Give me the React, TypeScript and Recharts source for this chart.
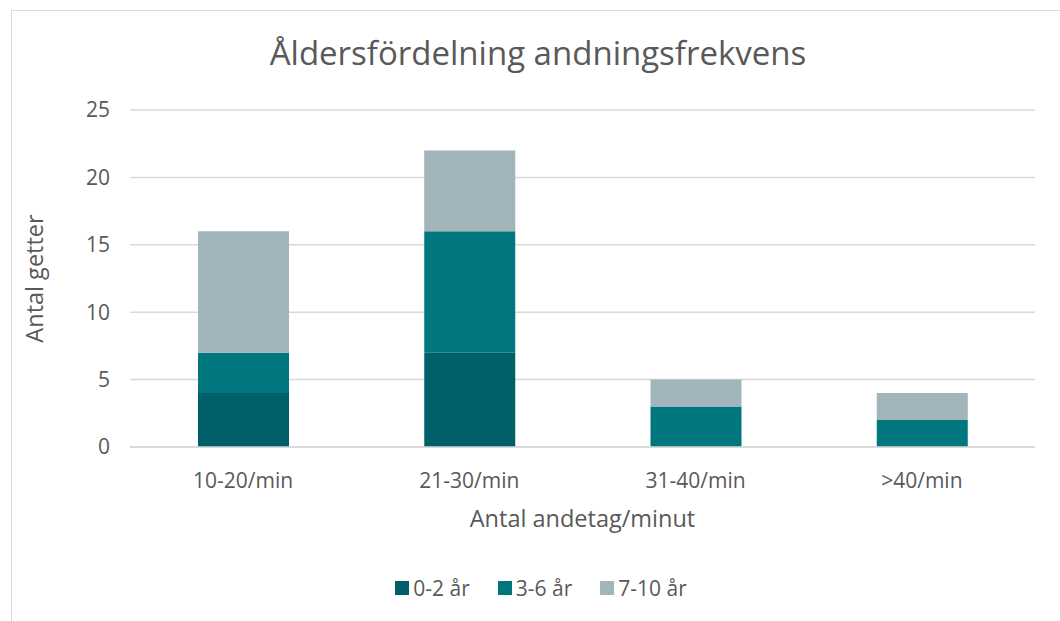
import { Bar, BarChart, CartesianGrid, Legend, XAxis, YAxis } from "recharts";

/* ===== Data ===== */
const categories = ["10-20/min", "21-30/min", "31-40/min", ">40/min"];
const age0to2 = [4, 7, 0, 0];
const age3to6 = [3, 9, 3, 2];
const age7to10 = [9, 6, 2, 2];
const yTicks = [0, 5, 10, 15, 20, 25];

const seriesList = [
  { key: "a", name: "0-2 år", color: "#005F69" },
  { key: "b", name: "3-6 år", color: "#00777F" },
  { key: "c", name: "7-10 år", color: "#A2B5BA" },
];

const chartData = categories.map((cat, i) => ({
  cat,
  a: age0to2[i],
  b: age3to6[i],
  c: age7to10[i],
}));

const FONT = "'Open Sans', sans-serif";
const TEXT = "#595959";

/* ===== Legend ===== */
const CustomLegend = () => (
  <div
    style={{
      display: "flex",
      justifyContent: "center",
      gap: 28,
      fontFamily: FONT,
      height: 26,
      paddingLeft: 22,
    }}
  >
    {seriesList.map((s) => (
      <div key={s.key} style={{ display: "flex", alignItems: "center", gap: 4 }}>
        <span style={{ width: 14, height: 14, background: s.color, display: "inline-block" }} />
        <span style={{ color: TEXT, fontSize: 21, lineHeight: "26px" }}>{s.name}</span>
      </div>
    ))}
  </div>
);

export default function App() {
  return (
    <div
      style={{
        position: "absolute",
        left: 0,
        top: 0,
        width: 1060,
        height: 621,
        overflow: "hidden",
        background: "#fff",
        fontFamily: FONT,
      }}
    >
      {/* Frame */}
      <div
        style={{
          position: "absolute",
          left: 11,
          top: 10,
          width: 1100,
          height: 700,
          border: "1.5px solid #D9D9D9",
        }}
      />

      {/* Title */}
      <div
        style={{
          position: "absolute",
          top: 30,
          left: 0,
          width: 1076,
          textAlign: "center",
          fontSize: 33,
          color: TEXT,
        }}
      >
        Åldersfördelning andningsfrekvens
      </div>

      <div style={{ position: "absolute", left: 0, top: 0 }}>
        <BarChart
          width={1060}
          height={621}
          data={chartData}
          margin={{ top: 110, right: 25, bottom: 0, left: 70 }}
        >
          <CartesianGrid vertical={false} stroke="#D9D9D9" strokeWidth={1.5} />
          <XAxis
            dataKey="cat"
            height={148}
            axisLine={{ stroke: "#D9D9D9", strokeWidth: 1.5 }}
            tickLine={false}
            tickMargin={20}
            tick={{ fill: TEXT, fontSize: 21, fontFamily: FONT }}
            label={{
              content: ({ viewBox }: any) => (
                <text
                  x={viewBox.x + viewBox.width / 2}
                  y={527}
                  textAnchor="middle"
                  fill={TEXT}
                  fontSize={23.5}
                  fontFamily={FONT}
                >
                  Antal andetag/minut
                </text>
              ),
            }}
          />
          <YAxis
            domain={[0, 25]}
            ticks={yTicks}
            axisLine={false}
            tickLine={false}
            tickMargin={14}
            tick={{ fill: TEXT, fontSize: 21, fontFamily: FONT }}
            label={{
              content: ({ viewBox }: any) => {
                const cy = viewBox.y + viewBox.height / 2;
                return (
                  <text
                    x={43}
                    y={cy}
                    transform={`rotate(-90 43 ${cy})`}
                    textAnchor="middle"
                    fill={TEXT}
                    fontSize={23.5}
                    fontFamily={FONT}
                  >
                    Antal getter
                  </text>
                );
              },
            }}
          />
          <Legend
            verticalAlign="bottom"
            wrapperStyle={{ top: 575, left: 0, width: 1060 }}
            content={<CustomLegend />}
          />
          {seriesList.map((s) => (
            <Bar
              key={s.key}
              dataKey={s.key}
              name={s.name}
              stackId="stack"
              fill={s.color}
              barSize={91}
              isAnimationActive={false}
            />
          ))}
        </BarChart>
      </div>
    </div>
  );
}
